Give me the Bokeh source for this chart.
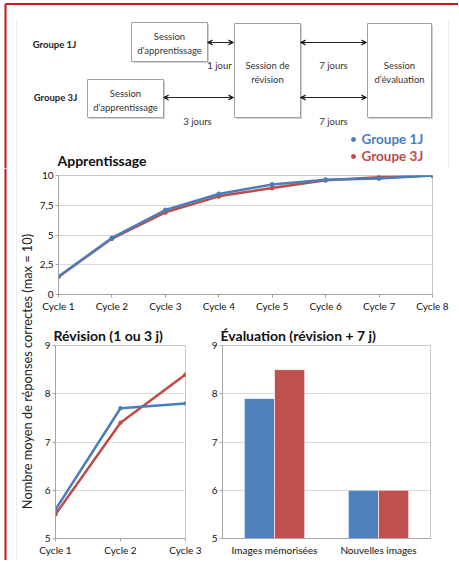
import math
from bokeh.plotting import figure
from bokeh.layouts import column, row
from bokeh.models import Range1d, FixedTicker, Arrow, VeeHead, FactorRange, ColumnDataSource
from bokeh.transform import dodge
from bokeh.core.properties import value
from bokeh.embed import file_html
from bokeh.resources import INLINE

# ---------------- data ----------------
groups = ["Groupe 1J", "Groupe 3J"]
cycles8 = ["Cycle 1", "Cycle 2", "Cycle 3", "Cycle 4", "Cycle 5", "Cycle 6", "Cycle 7", "Cycle 8"]
learn_1j = [1.5, 4.75, 7.1, 8.45, 9.25, 9.65, 9.75, 10.0]
learn_3j = [1.5, 4.7, 6.9, 8.25, 8.95, 9.6, 9.85, 10.0]
learn_yticks = [0, 2.5, 5, 7.5, 10]
learn_ylabels = ["0", "2,5", "5", "7,5", "10"]

cycles3 = ["Cycle 1", "Cycle 2", "Cycle 3"]
rev_1j = [5.6, 7.7, 7.8]
rev_3j = [5.5, 7.4, 8.4]
small_yticks = [5, 6, 7, 8, 9]

eval_cats = ["Images mémorisées", "Nouvelles images"]
eval_1j = [7.9, 6.0]
eval_3j = [8.5, 6.0]

BLUE = "#4a7ebb"
RED = "#be4b48"
BAR_BLUE = "#4f81bd"
BAR_RED = "#c0504d"
FRAME_RED = "#c4161c"
FONT = "Lato"
TXT = "#333333"
GRID = "#d9d9d9"
AXIS = "#a6a6a6"
FAINT = "#ececec"


def base(**kw):
    return figure(output_backend="svg", toolbar_location=None, **kw)


def style_axes(p):
    for ax in p.axis:
        ax.major_label_text_font = FONT
        ax.major_label_text_font_size = "10px"
        ax.major_label_text_color = "#111111"
        ax.axis_line_color = AXIS
        ax.major_tick_line_color = AXIS
        ax.minor_tick_line_color = None
        ax.major_tick_in = 0
        ax.major_tick_out = 3
        ax.major_label_standoff = 2
    p.xgrid.grid_line_color = None
    p.ygrid.grid_line_color = GRID
    p.outline_line_color = "#c8c8c8"
    p.background_fill_color = "white"
    p.border_fill_color = "white"


# ---------------- diagram (top band) ----------------
D = base(width=458, height=168, x_range=Range1d(0, 458), y_range=Range1d(168, 0),
         x_axis_location=None, y_axis_location=None, min_border=0)
D.grid.visible = False
D.outline_line_color = None

# faint page border and red frame
D.segment(x0=[16, 448], y0=[20, 20], x1=[16, 448], y1=[168, 168], line_color=FAINT, line_width=1)
D.segment(x0=[5, 5], y0=[3.5, 3.5], x1=[458, 5], y1=[3.5, 168], line_color=FRAME_RED, line_width=2)

box_l = [131, 234, 367, 87]
box_r = [207, 300, 431, 163]
box_t = [22, 23, 23, 79]
box_b = [61, 117, 117, 117]
D.quad(left=[v + 1.5 for v in box_l], right=[v + 1.5 for v in box_r],
       top=[v + 1.5 for v in box_t], bottom=[v + 1.5 for v in box_b],
       fill_color="#d0d0d0", line_color=None)
D.quad(left=box_l, right=box_r, top=box_t, bottom=box_b,
       fill_color="white", line_color="#a0a0a0", line_width=1)

D.text(x=[169, 169, 267, 267, 399, 399, 125, 125],
       y=[36, 50, 65, 79, 65, 79, 93, 107],
       text=["Session", "d\u2019apprentissage", "Session de", "r\u00e9vision",
             "Session", "d\u2019\u00e9valuation", "Session", "d\u2019apprentissage"],
       text_align="center", text_baseline="middle", text_font=value(FONT),
       text_font_size="9.5px", text_color=TXT)
D.text(x=[219, 333, 197, 333], y=[65, 65, 121, 121],
       text=["1 jour", "7 jours", "3 jours", "7 jours"],
       text_align="center", text_baseline="middle", text_font=value(FONT),
       text_font_size="9.5px", text_color=TXT)
D.text(x=[54, 55], y=[44, 97], text=groups,
       text_align="center", text_baseline="middle", text_font=value(FONT),
       text_font_style="bold", text_font_size="9.5px", text_color="#222222")

for xs, xe, yy in [(207, 233, 42), (300, 366, 42), (163, 233, 97), (300, 366, 97)]:
    D.add_layout(Arrow(start=VeeHead(size=5, line_width=1, line_color="#222222"),
                       end=VeeHead(size=5, line_width=1, line_color="#222222"),
                       x_start=xs, y_start=yy, x_end=xe, y_end=yy,
                       line_color="#222222", line_width=1))

# legend (manual) and chart title
D.scatter(x=[353, 353], y=[139, 156], size=4, color=[BLUE, RED])
D.text(x=[361, 361], y=[138, 155], text=groups, text_align="left", text_baseline="middle",
       text_font=value(FONT), text_font_style="bold", text_font_size="13.5px",
       text_color=[BLUE, RED])
D.text(x=[57], y=[160], text=["Apprentissage"], text_align="left", text_baseline="middle",
       text_font=value(FONT), text_font_style="bold", text_font_size="14px",
       text_color="#111111")

# ---------------- left strip with shared y label ----------------
L = base(width=36, height=392, x_range=Range1d(0, 36), y_range=Range1d(560, 168),
         x_axis_location=None, y_axis_location=None, min_border=0)
L.grid.visible = False
L.outline_line_color = None
L.segment(x0=[16], y0=[168], x1=[16], y1=[560], line_color=FAINT, line_width=1)
L.segment(x0=[5], y0=[168], x1=[5], y1=[560], line_color=FRAME_RED, line_width=2)
L.text(x=[26], y=[371], text=["Nombre moyen de r\u00e9ponses correctes (max = 10)"],
       angle=math.pi / 2, text_align="center", text_baseline="middle",
       text_font=value(FONT), text_font_size="12.8px", text_color="#222222")

# ---------------- Apprentissage ----------------
x8 = list(range(1, len(cycles8) + 1))
A = base(width=416, height=150, x_range=Range1d(1, 8), y_range=Range1d(0, 10),
         min_border_left=22, min_border_right=20, min_border_top=7, min_border_bottom=24)
style_axes(A)
A.xaxis.ticker = FixedTicker(ticks=x8)
A.xaxis.major_label_overrides = {x: c for x, c in zip(x8, cycles8)}
A.yaxis.ticker = FixedTicker(ticks=learn_yticks)
A.yaxis.major_label_overrides = {t: l for t, l in zip(learn_yticks, learn_ylabels)}
A.line(x8, learn_3j, color=RED, line_width=2.5)
A.scatter(x8, learn_3j, color=RED, size=4)
A.line(x8, learn_1j, color=BLUE, line_width=2.5)
A.scatter(x8, learn_1j, color=BLUE, size=4)

# ---------------- Révision ----------------
x3 = list(range(1, len(cycles3) + 1))
BL = base(width=169, height=242, x_range=Range1d(1, 3), y_range=Range1d(5, 9),
          min_border_left=19, min_border_right=20, min_border_top=27, min_border_bottom=22,
          title="R\u00e9vision (1 ou 3 j)")
style_axes(BL)
BL.xaxis.ticker = FixedTicker(ticks=x3)
BL.xaxis.major_label_overrides = {x: c for x, c in zip(x3, cycles3)}
BL.yaxis.ticker = FixedTicker(ticks=small_yticks)
BL.line(x3, rev_3j, color=RED, line_width=2.5)
BL.scatter(x3, rev_3j, color=RED, size=3.5)
BL.line(x3, rev_1j, color=BLUE, line_width=2.5)
BL.scatter(x3, rev_1j, color=BLUE, size=3.5)

# ---------------- Évaluation ----------------
src = ColumnDataSource(dict(cat=eval_cats, g1=eval_1j, g3=eval_3j))
BR = base(width=247, height=242, x_range=FactorRange(factors=eval_cats, range_padding=0),
          y_range=Range1d(5, 9),
          min_border_left=17, min_border_right=22, min_border_top=27, min_border_bottom=22,
          title="\u00c9valuation (r\u00e9vision + 7 j)")
style_axes(BR)
BR.yaxis.ticker = FixedTicker(ticks=small_yticks)
BR.xaxis.major_tick_out = 0
BR.xaxis.major_label_standoff = 5
BR.vbar(x=dodge("cat", -0.145, range=BR.x_range), top="g1", bottom=5, width=0.29,
        source=src, fill_color=BAR_BLUE, line_color="white", line_width=0.6)
BR.vbar(x=dodge("cat", 0.145, range=BR.x_range), top="g3", bottom=5, width=0.29,
        source=src, fill_color=BAR_RED, line_color="white", line_width=0.6)

for p in (BL, BR):
    p.title.text_font = FONT
    p.title.text_font_size = "14px"
    p.title.text_font_style = "bold"
    p.title.text_color = "#111111"
    p.title.align = "left"
    p.title.offset = -2
    p.title.standoff = 3

layout = column(D, row(L, column(A, row(BL, BR))))

open("out.html", "w").write(file_html(layout, INLINE))
